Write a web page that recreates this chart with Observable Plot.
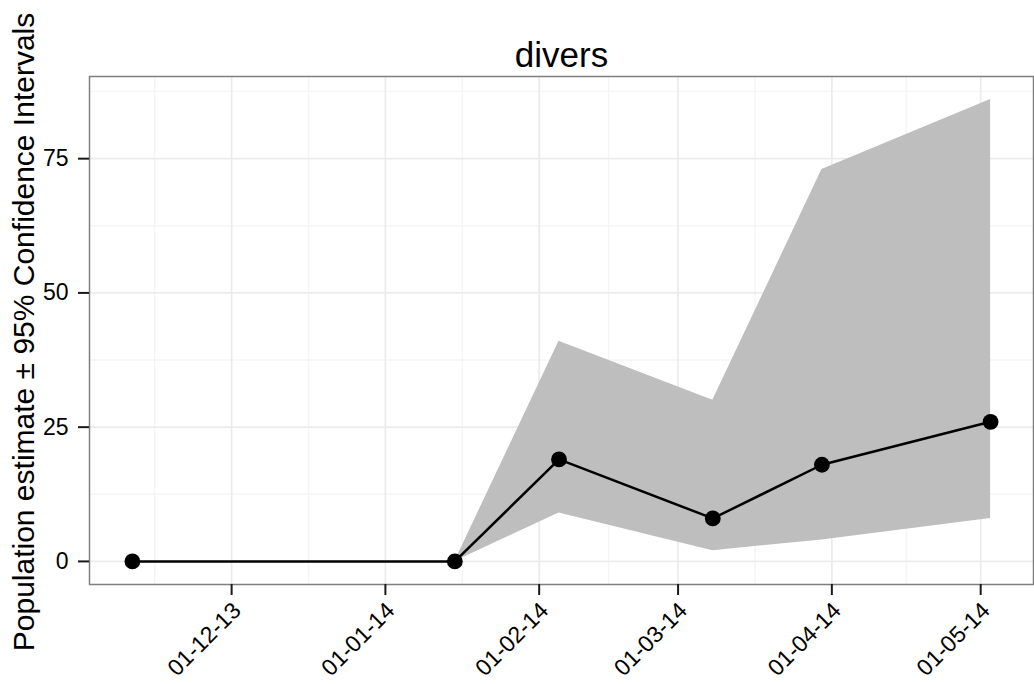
<!DOCTYPE html>
<html>
<head>
<meta charset="utf-8">
<script src="https://cdn.jsdelivr.net/npm/d3@7"></script>
<script src="https://cdn.jsdelivr.net/npm/@observablehq/plot@0.6"></script>
<style>
  html, body { margin: 0; padding: 0; background: #ffffff; }
</style>
</head>
<body>
<div id="chart"></div>
<script>
// Survey dates and population estimates with 95% confidence bounds
const surveyDates = ["2013-11-11", "2014-01-15", "2014-02-05", "2014-03-08", "2014-03-30", "2014-05-03"];
const estimates   = [0, 0, 19, 8, 18, 26];
const lowerCI     = [null, 0, 9, 2, 4, 8];
const upperCI     = [null, 0, 41, 30, 73, 86];

// Axis breaks
const xBreaks = ["2013-12-01", "2014-01-01", "2014-02-01", "2014-03-01", "2014-04-01", "2014-05-01"];
const yBreaks = [0, 25, 50, 75];

const rows = surveyDates.map((d, i) => ({
  date: new Date(d),
  estimate: estimates[i],
  lower: lowerCI[i],
  upper: upperCI[i]
}));
const bandRows = rows.filter(d => d.lower != null && d.upper != null);

const xTicks = xBreaks.map(d => new Date(d));
// minor grid lines sit halfway between the major breaks
const xMinor = [new Date(+xTicks[0] - (xTicks[1] - xTicks[0]) / 2)]
  .concat(xTicks.slice(1).map((t, i) => new Date((+t + +xTicks[i]) / 2)));
const yMinor = yBreaks.map(v => v + 12.5);

// 5% padding on both scales
const tExt = d3.extent(rows, d => +d.date);
const tPad = (tExt[1] - tExt[0]) * 0.05;
const yLo = d3.min(rows, d => Math.min(d.estimate, d.lower ?? d.estimate));
const yHi = d3.max(rows, d => Math.max(d.estimate, d.upper ?? d.estimate));
const yPad = (yHi - yLo) * 0.05;

const fmt = d3.utcFormat("%d-%m-%y");
const font = "'Liberation Sans', Arial, Helvetica, sans-serif";

const chart = Plot.plot({
  width: 1034,
  height: 684,
  marginLeft: 89,
  marginRight: 1,
  marginTop: 76,
  marginBottom: 100,
  style: { fontFamily: font, background: "#ffffff", color: "#000000" },
  x: { type: "utc", domain: [new Date(tExt[0] - tPad), new Date(tExt[1] + tPad)], label: null },
  y: { domain: [yLo - yPad, yHi + yPad], label: null },
  marks: [
    // grid
    Plot.ruleY(yMinor.filter(v => v < yHi + yPad), { stroke: "#f5f5f5", strokeWidth: 1.4 }),
    Plot.ruleX(xMinor, { stroke: "#f5f5f5", strokeWidth: 1.4 }),
    Plot.ruleY(yBreaks, { stroke: "#ebebeb", strokeWidth: 1.7 }),
    Plot.ruleX(xTicks, { stroke: "#ebebeb", strokeWidth: 1.7 }),
    // confidence band
    Plot.areaY(bandRows, { x: "date", y1: "lower", y2: "upper", fill: "#bebebe", curve: "linear" }),
    // estimates
    Plot.line(rows, { x: "date", y: "estimate", stroke: "#000000", strokeWidth: 2.5 }),
    Plot.dot(rows, { x: "date", y: "estimate", r: 7.9, fill: "#000000", stroke: "none" }),
    // panel border
    Plot.frame({ stroke: "#7f7f7f", strokeWidth: 1.5 }),
    // axes
    Plot.axisY(yBreaks, {
      tickSize: 11, tickPadding: 10, fontSize: 23, stroke: "#1a1a1a", strokeWidth: 2,
      fill: "#000000", label: null
    }),
    Plot.axisX(xTicks, {
      tickSize: 11, stroke: "#1a1a1a", strokeWidth: 2, tickFormat: () => "", label: null
    }),
    Plot.text(xTicks, {
      x: d => d, frameAnchor: "bottom", text: d => fmt(d),
      rotate: -45, textAnchor: "end", lineAnchor: "top",
      dx: -1, dy: 16, fontSize: 23, fill: "#000000"
    }),
    // y-axis title
    Plot.text(["Population estimate \u00b1 95% Confidence Intervals"], {
      frameAnchor: "left", rotate: -90, textAnchor: "middle", lineAnchor: "bottom",
      dx: -55.5, dy: 1.5, fontSize: 30, fill: "#000000"
    }),
    // title
    Plot.text(["divers"], {
      frameAnchor: "top", lineAnchor: "bottom", dy: -9.5, fontSize: 35, fill: "#000000"
    })
  ]
});

document.getElementById("chart").appendChild(chart);
</script>
</body>
</html>
